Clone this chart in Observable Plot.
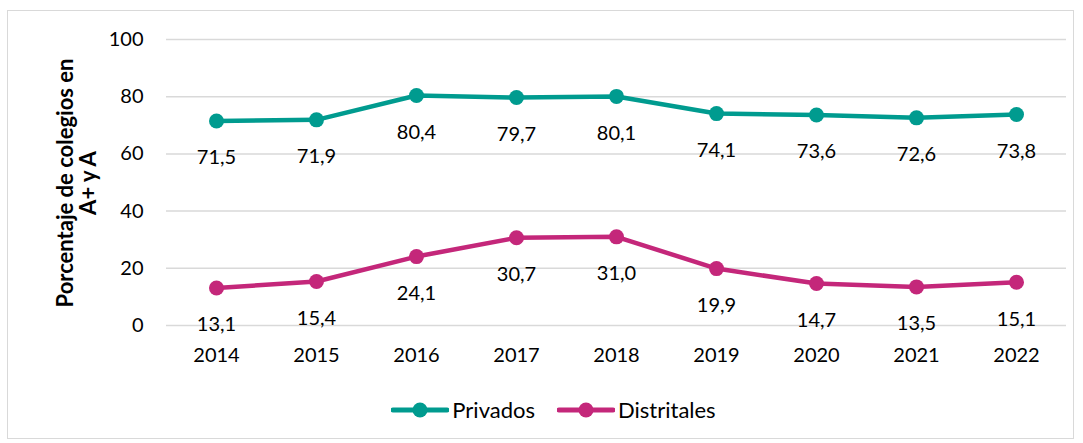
<!DOCTYPE html>
<html><head><meta charset="utf-8">
<script src="https://cdn.jsdelivr.net/npm/d3@7"></script>
<script src="https://cdn.jsdelivr.net/npm/@observablehq/plot@0.6"></script>
<style>
body{margin:0;background:#fff;font-family:Lato,"Noto Sans",sans-serif;}
#wrap{position:relative;width:1083px;height:443px;overflow:hidden;}
#border{position:absolute;left:7px;top:10px;width:1067px;height:429px;border:1.5px solid #d9d9d9;box-sizing:border-box;}
#plot{position:absolute;left:0;top:0;}
#ytitle{position:absolute;left:76px;top:183px;transform:translate(-50%,-50%) rotate(-90deg);font-weight:bold;font-size:22px;line-height:23px;text-align:center;white-space:nowrap;color:#000;}
#legend{position:absolute;top:396px;left:0;width:1083px;display:flex;justify-content:center;gap:22px;font-size:22px;color:#000;padding-left:24px;box-sizing:border-box;}
.item{display:flex;align-items:center;gap:3px;}
</style></head>
<body>
<div id="wrap">
<div id="border"></div>
<div id="plot"></div>
<div id="ytitle">Porcentaje de colegios en<br>A+ y A</div>
<div id="legend"></div>
</div>
<script>
const years = ["2014","2015","2016","2017","2018","2019","2020","2021","2022"];
const privados = [71.5,71.9,80.4,79.7,80.1,74.1,73.6,72.6,73.8];
const distritales = [13.1,15.4,24.1,30.7,31.0,19.9,14.7,13.5,15.1];
const seriesNames = ["Privados","Distritales"];
const colors = ["#009b8f","#c4277a"];

const data = [];
years.forEach((y,i)=>{
  data.push({year:y, value:privados[i], serie:seriesNames[0]});
  data.push({year:y, value:distritales[i], serie:seriesNames[1]});
});
const fmt = v => v.toFixed(1).replace(".", ",");

const chart = Plot.plot({
  width:1083, height:443,
  marginLeft:166, marginRight:17, marginTop:39, marginBottom:118,
  style:{fontFamily:"Lato, 'Noto Sans', sans-serif", fontSize:"20px", color:"#000", background:"transparent"},
  x:{type:"point", domain:years, padding:0.5, label:null, tickSize:0, tickPadding:22},
  y:{domain:[0,100], ticks:[0,20,40,60,80,100], label:null, tickSize:0, tickPadding:23},
  color:{domain:seriesNames, range:colors},
  marks:[
    Plot.gridY([0,20,40,60,80,100], {stroke:"#d9d9d9", strokeOpacity:1, strokeWidth:1.5}),
    Plot.line(data, {x:"year", y:"value", z:"serie", stroke:"serie", strokeWidth:4.5}),
    Plot.dot(data, {x:"year", y:"value", fill:"serie", r:7.5}),
    Plot.text(data, {x:"year", y:"value", text:d=>fmt(d.value), dy:37, fill:"#000", fontSize:20})
  ]
});
document.getElementById("plot").appendChild(chart);

const leg = document.getElementById("legend");
seriesNames.forEach((n,i)=>{
  const it = document.createElement("div"); it.className="item";
  it.innerHTML = `<svg width="58" height="20"><line x1="2" y1="10" x2="56" y2="10" stroke="${colors[i]}" stroke-width="5" stroke-linecap="round"/><circle cx="29" cy="10" r="7.5" fill="${colors[i]}"/></svg><span>${n}</span>`;
  leg.appendChild(it);
});
</script>
</body></html>
